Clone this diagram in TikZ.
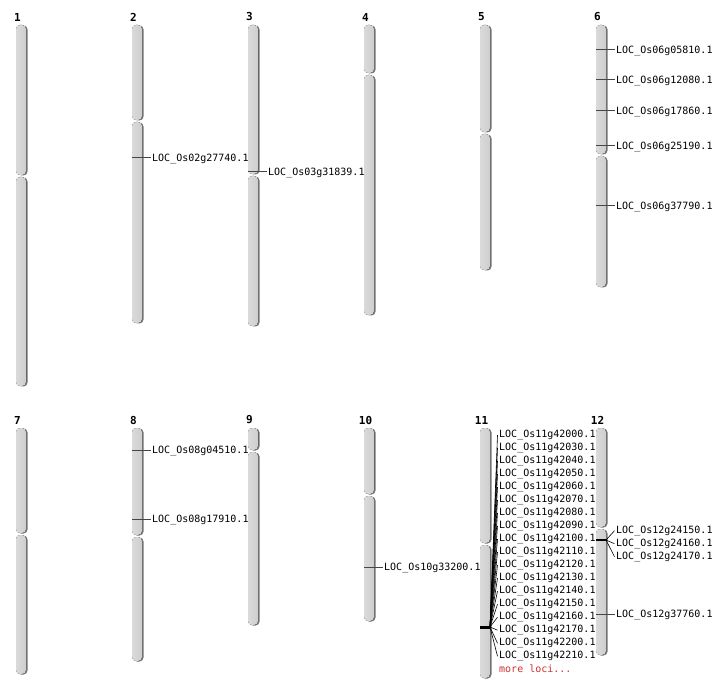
\documentclass[tikz,border=0pt]{standalone}
\usepackage{fontspec}
\newfontfamily\locfont{DejaVu Sans Mono}
\newfontfamily\numfont{DejaVu Sans Mono Bold}
\definecolor{armgray}{RGB}{206,206,206}
\definecolor{armlight}{RGB}{218,218,218}
\definecolor{shadowgray}{RGB}{115,115,115}
\definecolor{tickgray}{RGB}{70,70,70}
\definecolor{morered}{RGB}{205,50,50}
\tikzset{
    armshadow/.style={fill=shadowgray, rounded corners=4pt},
    chromarm/.style={left color=armlight, right color=armgray, rounded corners=4pt},
    chrlabel/.style={font=\numfont\fontsize{11}{13}\selectfont, inner sep=0pt},
    locus/.style={font=\locfont\fontsize{10}{12}\selectfont, anchor=west, inner sep=1.5pt, yshift=-1.2pt},
    locustick/.style={draw=tickgray, line width=1pt},
    fanline/.style={draw=black, line width=0.6pt}
}
\begin{document}
\begin{tikzpicture}[x=1pt,y=-1pt]
        \useasboundingbox (0,0) rectangle (712,700);
        % chromosomes: number/left/top/centromere/bottom
        \foreach \n/\x/\t/\c/\b in {1/16/25/176/386, 2/132/25/121/323, 3/248/25/175/326,
            4/364/25/74/315, 5/480/25/133/270, 6/596/25/155/287,
            7/16/428/534/674, 8/132/428/536/661, 9/248/428/451/625,
            10/364/428/495/621, 11/480/428/544/678, 12/596/428/528/655}
            {
                \fill[armshadow] (\x+1.5,\t+0.5) rectangle (\x+11.5,\c-0.5);
                \fill[armshadow] (\x+1.5,\c+1.5) rectangle (\x+11.5,\b+0.5);
                \fill[chromarm] (\x,\t) rectangle (\x+10,\c-1);
                \fill[chromarm] (\x,\c+1) rectangle (\x+10,\b);
                \node[chrlabel] (num\n) at (\x+1.5,\t-8) {\n};
            }
        % single loci: id/chromosome left/y/name
        \foreach \i/\x/\y/\name in {1/132/158/02g27740, 2/248/172/03g31839,
            3/596/50/06g05810, 4/596/80/06g12080, 5/596/111/06g17860,
            6/596/146/06g25190, 7/596/206/06g37790,
            8/132/450/08g04510, 9/132/519/08g17910,
            10/364/567/10g33200, 11/596/614/12g37760}
            {
                \coordinate (tick\i) at (\x,\y);
                \node[locus] (loc\i) at (\x+18.5,\y) {LOC\_Os\name.1};
                \draw[locustick] (tick\i) -- (tick\i -| loc\i.west);
            }
        % cluster on chromosome 11
        \coordinate (mark11) at (490,627);
        \draw[line width=3pt] (480,627) -- (mark11);
        \foreach \g [count=\i] in {42000,42030,42040,42050,42060,42070,42080,42090,42100,
            42110,42120,42130,42140,42150,42160,42170,42200,42210}
            {
                \node[locus] (c\i) at (497.5,421+13*\i) {LOC\_Os11g\g.1};
                \draw[fanline] (mark11) -- (c\i.west);
            }
        \node[locus, text=morered] (more11) at (497.5,668) {more loci...};
        % cluster on chromosome 12
        \coordinate (mark12) at (606,540);
        \draw[line width=1.6pt] (596,540) -- (mark12);
        \foreach \g [count=\i] in {24150,24160,24170}
            {
                \node[locus] (d\i) at (614.5,516.5+13*\i) {LOC\_Os12g\g.1};
                \draw[fanline] (mark12) -- (d\i.west);
            }
\end{tikzpicture}
\end{document}
